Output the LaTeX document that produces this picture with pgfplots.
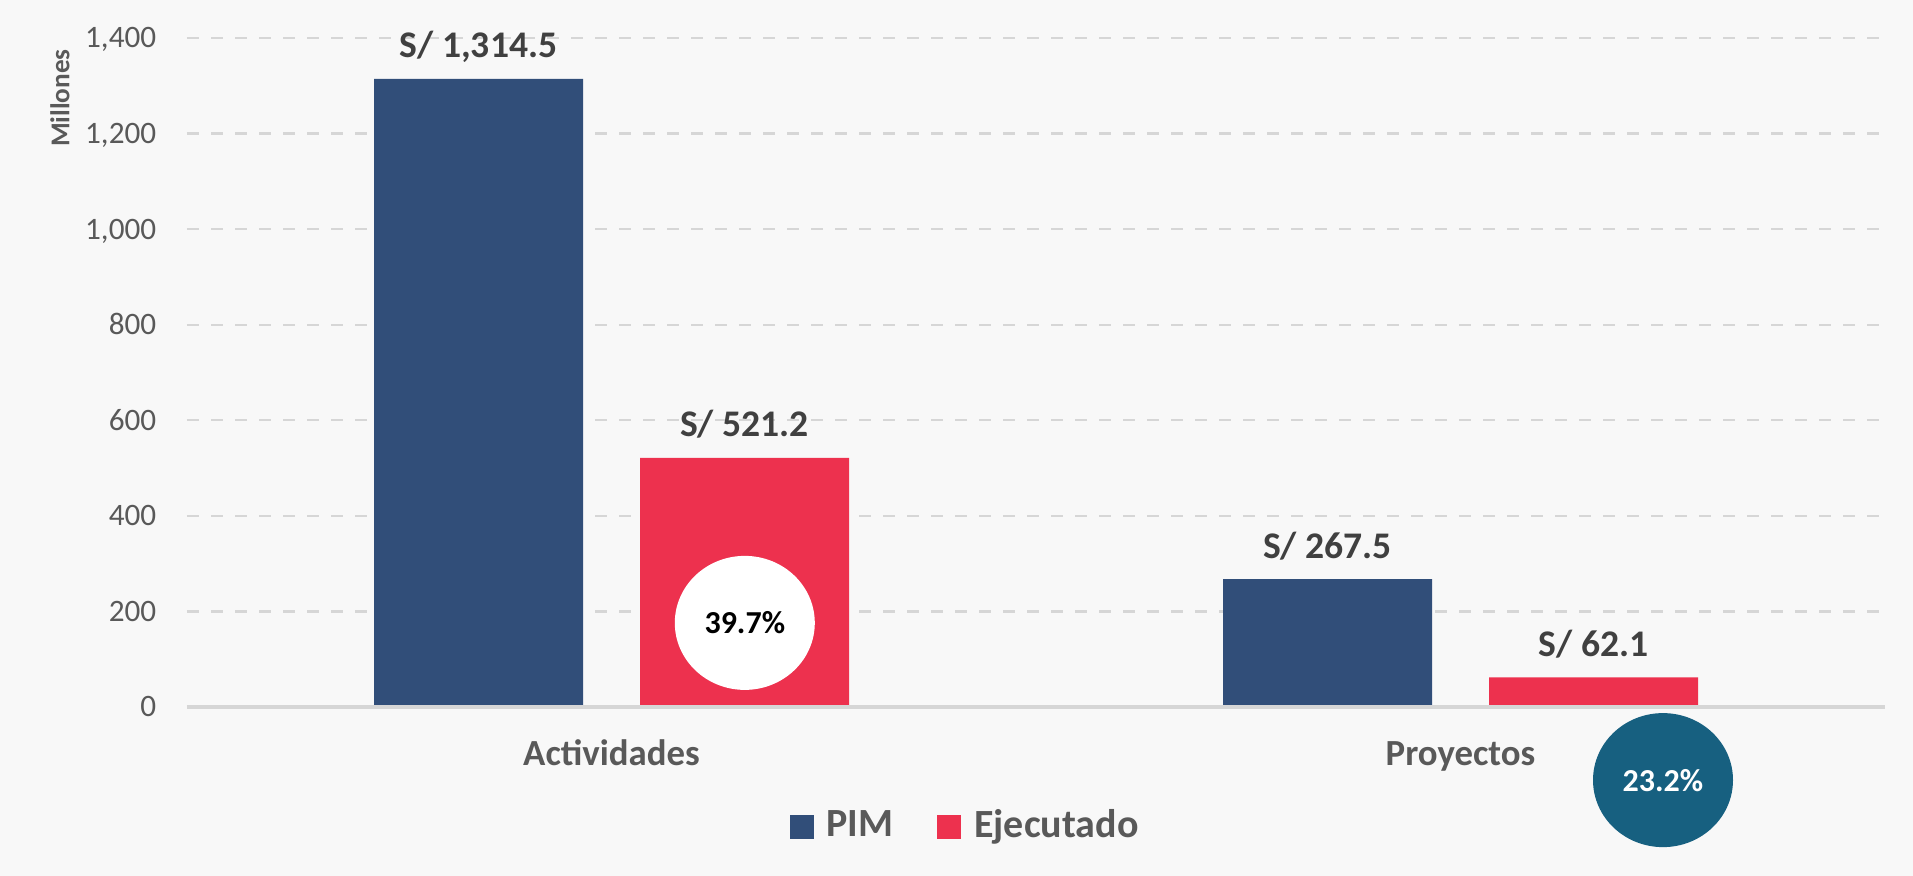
\documentclass[border=0pt]{standalone}
\usepackage{pgfplots}
\pgfplotsset{compat=1.18}
\usepackage{fontspec}
\setmainfont{Carlito}

\definecolor{pim}{RGB}{49,78,121}
\definecolor{ejec}{RGB}{237,49,78}
\definecolor{circ}{RGB}{23,96,128}
\definecolor{txtgray}{RGB}{89,89,89}
\definecolor{lbldark}{RGB}{64,64,64}
\definecolor{bg}{RGB}{248,248,248}

\begin{document}
\begin{tikzpicture}
\fill[bg] (0,0) rectangle (478.25pt,219pt);
\useasboundingbox (0,0) rectangle (478.25pt,219pt);
\begin{axis}[
    at={(46.75pt,42.25pt)}, anchor=south west,
    scale only axis, width=424.5pt, height=167.25pt,
    ybar=14.25pt, bar width=52.25pt,
    xmin=-0.5, xmax=1.5, ymin=0, ymax=1400,
    ytick={0,200,...,1400},
    xtick={0,1}, xticklabels={Actividades,Proyectos},
    axis line style={draw=none},
    major tick length=0pt,
    ymajorgrids,
    grid style={dashed, black!16, line width=0.6pt},
    /pgf/number format/assume math mode=true,
    /pgf/number format/1000 sep={,},
    yticklabel style={font=\fontsize{7.8}{9}\selectfont, text=txtgray,
        anchor=base east, inner sep=0pt, xshift=-7.5pt, yshift=-2.5pt},
    xticklabel style={font=\bfseries\fontsize{9.2}{11}\selectfont, text=txtgray,
        anchor=base, inner sep=0pt, yshift=-14.75pt},
    ylabel={Millones},
    ylabel style={at={(axis description cs:-0.0748,0.910)}, anchor=center,
        font=\bfseries\fontsize{6.8}{8}\selectfont, text=txtgray},
    nodes near coords={S/ \pgfmathprintnumber[fixed,fixed zerofill,precision=1,1000 sep={,},assume math mode=true]{\pgfplotspointmeta}},
    every node near coord/.append style={font=\bfseries\fontsize{9.4}{11}\selectfont,
        text=lbldark, anchor=base, inner sep=0pt, yshift=5.25pt},
    legend style={at={(axis description cs:0.460,-0.179)}, anchor=center,
        draw=none, fill=none, legend columns=2,
        font=\bfseries\fontsize{10}{12}\selectfont, text=txtgray,
        /tikz/every odd column/.append style={column sep=1.2pt},
        /tikz/every even column/.append style={column sep=9pt}},
    legend image code/.code={\fill[#1] (0pt,-3pt) rectangle (6pt,3pt);},
    clip=false,
]
\addplot[fill=pim, draw=none] coordinates {(0,1314.5) (1,267.5)};
\addplot[fill=ejec, draw=none] coordinates {(0,521.2) (1,62.1)};
\legend{PIM,Ejecutado}
\draw[black!16, line width=0.8pt] (axis cs:-0.5,0) -- (axis cs:1.5,0);
\fill[white] (axis cs:0.157,176) ellipse [x radius=17.5pt, y radius=16.75pt];
\node[font=\bfseries\fontsize{8}{10}\selectfont, text=black] at (axis cs:0.157,176) {39.7\%};
\fill[circ] (axis cs:1.2385,-153) ellipse [x radius=17.5pt, y radius=16.75pt];
\node[font=\bfseries\fontsize{8}{10}\selectfont, text=white] at (axis cs:1.2385,-153) {23.2\%};
\end{axis}
\end{tikzpicture}
\end{document}
